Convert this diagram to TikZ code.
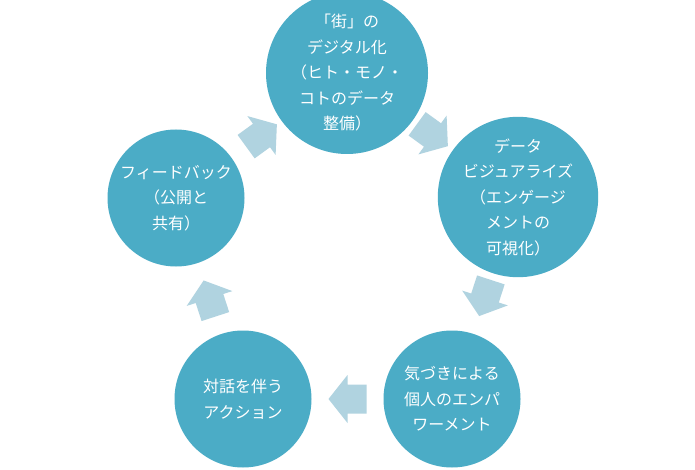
\documentclass[tikz,border=0pt]{standalone}
\usepackage{fontspec}
\newfontfamily\jp{Noto Sans CJK JP}
\usetikzlibrary{calc}
\definecolor{circc}{HTML}{4BACC6}
\definecolor{arrowc}{HTML}{B0D3E0}
\tikzset{
  stage/.style={circle, fill=circc, draw=none, minimum size=137pt, inner sep=0pt,
    text=white, align=center, font=\jp\fontsize{16}{25.5}\selectfont},
  blockarrow/.pic={\fill[arrowc] (-19,-14.5) -- (0,-14.5) -- (0,-24) -- (19,0) -- (0,24) -- (0,14.5) -- (-19,14.5) -- cycle;}
}
\begin{document}
\begin{tikzpicture}[x=1pt,y=-1pt]
\useasboundingbox[fill=white] (0,0) rectangle (695,470);
\node[stage] (top) at (347,73) {「街」の\\デジタル化\\（ヒト・モノ・\\コトのデータ\\整備）};
\node[stage] (right) at (518,197) {データ\\ビジュアライズ\\（エンゲージ\\メントの\\可視化）};
\node[stage] (br) at (452,399) {気づきによる\\個人のエンパ\\ワーメント};
\node[stage] (bl) at (243,399) {対話を伴う\\アクション};
\node[stage] (left) at (176,198) {フィードバック\\（公開と\\共有）};
\pic[rotate=-36] at ($(top)!0.5!(right)$) {blockarrow};
\pic[rotate=-108] at ($(right)!0.5!(br)$) {blockarrow};
\pic[rotate=180] at ($(br)!0.5!(bl)$) {blockarrow};
\pic[rotate=108] at ($(bl)!0.5!(left)$) {blockarrow};
\pic[rotate=36] at ($(left)!0.5!(top)$) {blockarrow};
\end{tikzpicture}
\end{document}
